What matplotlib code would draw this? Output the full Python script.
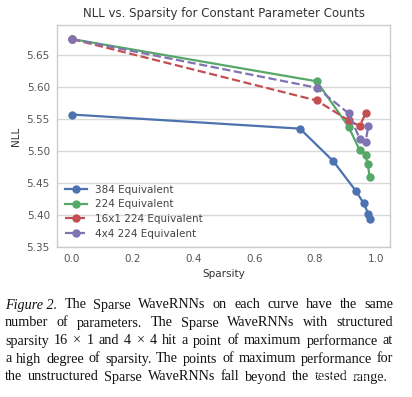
import matplotlib
matplotlib.use("Agg")
import matplotlib.pyplot as plt

# data
sparsity_384 = [0.0, 0.75, 0.86, 0.935, 0.96, 0.975, 0.98]
nll_384 = [5.557, 5.535, 5.484, 5.437, 5.418, 5.402, 5.394]

sparsity_224 = [0.0, 0.805, 0.91, 0.947, 0.966, 0.973, 0.98]
nll_224 = [5.675, 5.609, 5.538, 5.501, 5.494, 5.479, 5.459]

sparsity_16x1 = [0.0, 0.805, 0.91, 0.947, 0.966]
nll_16x1 = [5.675, 5.579, 5.548, 5.539, 5.559]

sparsity_4x4 = [0.0, 0.805, 0.91, 0.947, 0.966, 0.975]
nll_4x4 = [5.675, 5.599, 5.559, 5.519, 5.514, 5.539]

x_ticks = [0.0, 0.2, 0.4, 0.6, 0.8, 1.0]
y_ticks = [5.35, 5.40, 5.45, 5.50, 5.55, 5.60, 5.65]

caption_lines = [
    [("Figure 2.", "italic"), ("The", "normal"), ("Sparse", "normal"), ("WaveRNNs", "normal"),
     ("on", "normal"), ("each", "normal"), ("curve", "normal"), ("have", "normal"),
     ("the", "normal"), ("same", "normal")],
    "number of parameters.  The Sparse WaveRNNs with structured",
    "sparsity 16 \u00d7 1 and 4 \u00d7 4 hit a point of maximum performance at",
    "a high degree of sparsity. The points of maximum performance for",
    "the unstructured Sparse WaveRNNs fall beyond the tested range.",
]
# right edge of each caption line (pixels)
line_ends = [393, 393, 393, 393, 388]

fig = plt.figure(figsize=(4.12, 3.97), dpi=100)
ax = fig.add_axes([0.138, 0.378, 0.809, 0.559])

ax.plot(sparsity_384, nll_384, "-o", color="#4C72B0", lw=1.6, ms=5, label="384 Equivalent")
ax.plot(sparsity_224, nll_224, "-o", color="#55A868", lw=1.6, ms=5, label="224 Equivalent")
ax.plot(sparsity_16x1, nll_16x1, "--o", color="#C44E52", lw=1.6, ms=5, label="16x1 224 Equivalent")
ax.plot(sparsity_4x4, nll_4x4, "--o", color="#8172B2", lw=1.6, ms=5, label="4x4 224 Equivalent")

ax.set_xlim(-0.05, 1.047)
ax.set_ylim(5.35, 5.697)
ax.set_xticks(x_ticks)
ax.set_yticks(y_ticks)
ax.tick_params(length=0, labelsize=7.5, colors="#555555", pad=5)
ax.grid(axis="y", color="#d9d9d9", lw=1)
ax.set_axisbelow(True)
for s in ax.spines.values():
    s.set_color("#cccccc")
    s.set_linewidth(1)

ax.set_title("NLL vs. Sparsity for Constant Parameter Counts", fontsize=8.5, color="#333333", pad=6)
ax.set_xlabel("Sparsity", fontsize=7.5, color="#333333", labelpad=4)
ax.set_ylabel("NLL", fontsize=7.5, color="#333333", labelpad=4)

leg = ax.legend(loc="lower left", frameon=False, fontsize=7.5, handlelength=2.1,
                labelspacing=0.45, borderaxespad=0.4)
for t in leg.get_texts():
    t.set_color("#444444")

# justified caption below the chart
cap_size = 10.2
renderer = fig.canvas.get_renderer()
W, H = fig.get_size_inches() * fig.dpi
left_px = 5
y0, step = 305, 18
for i, line in enumerate(caption_lines):
    if isinstance(line, str):
        words = [(w, "normal") for w in line.split(" ") if w]
    else:
        words = line
    y = 1 - (y0 + i * step) / H
    texts = []
    for w, style in words:
        t = fig.text(0, y, w, fontsize=cap_size, family="Liberation Serif", style=style,
                     va="center", ha="left", color="#111111")
        texts.append(t)
    widths = [t.get_window_extent(renderer).width for t in texts]
    gap = (line_ends[i] - left_px - sum(widths)) / (len(texts) - 1)
    x = left_px
    for t, w in zip(texts, widths):
        t.set_x(x / W)
        x += w + gap

fig.text(403 / W, 1 - 376 / H, "知乎 @Light Sea", fontsize=8.5, ha="right", va="center",
         family=["Noto Sans CJK SC", "DejaVu Sans"], color="white", alpha=0.7)

fig.savefig("out.png", dpi=100)
